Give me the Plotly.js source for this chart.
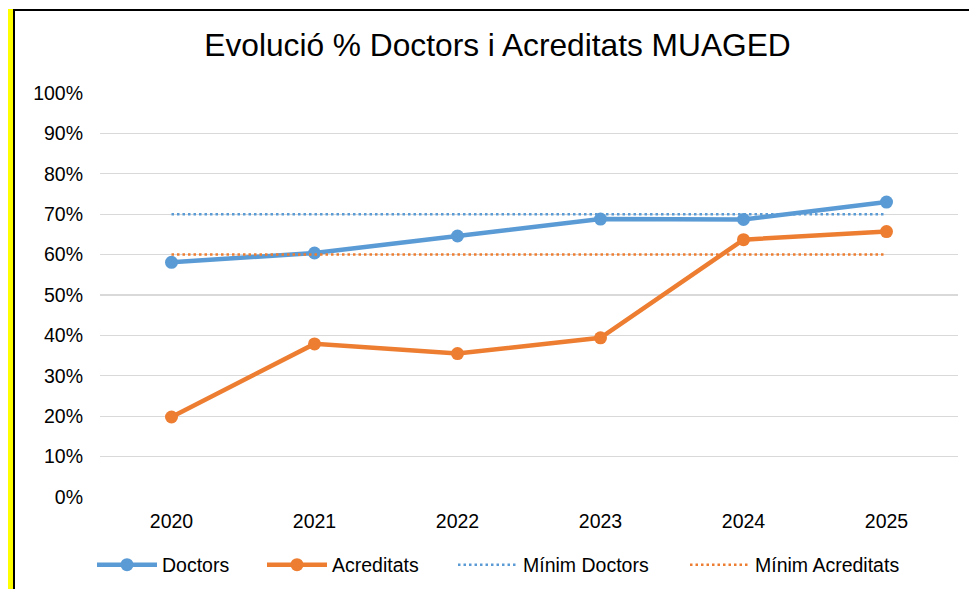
<!DOCTYPE html>
<html>
<head>
<meta charset="utf-8">
<script src="https://cdn.plot.ly/plotly-3.0.1.min.js"></script>
<style>
  html, body { margin: 0; padding: 0; background: #ffffff; width: 969px; height: 589px; overflow: hidden; }
  #strip { position: absolute; left: 8px; top: 9px; width: 5px; height: 580px; background: #FFFF00; }
  #chart { position: absolute; left: 13px; top: 9px; width: 954px; height: 578px;
           border-left: 2px solid #000; border-top: 2px solid #000; }
</style>
</head>
<body>
<div id="strip"></div>
<div id="chart"></div>
<script>
const years = ['2020', '2021', '2022', '2023', '2024', '2025'];
const doctors = [58.1, 60.4, 64.6, 68.8, 68.7, 73.0];
const acreditats = [19.8, 37.9, 35.5, 39.4, 63.7, 65.7];
const minimDoctors = [70, 70, 70, 70, 70, 70];
const minimAcreditats = [60, 60, 60, 60, 60, 60];
const yTickVals = [0, 10, 20, 30, 40, 50, 60, 70, 80, 90, 100];
const yTickText = ['0%', '10%', '20%', '30%', '40%', '50%', '60%', '70%', '80%', '90%', '100%'];

const BLUE = '#5B9BD5';
const ORANGE = '#ED7D31';
const FONT = 'Liberation Sans, Arial, sans-serif';

const traces = [
  { x: years, y: doctors, name: 'Doctors', type: 'scatter', mode: 'lines+markers', legend: 'legend',
    line: { color: BLUE, width: 4.5 }, marker: { color: BLUE, size: 13 } },
  { x: years, y: acreditats, name: 'Acreditats', type: 'scatter', mode: 'lines+markers', legend: 'legend2',
    line: { color: ORANGE, width: 4.5 }, marker: { color: ORANGE, size: 13 } },
  { x: years, y: minimDoctors, name: 'Mínim Doctors', type: 'scatter', mode: 'lines', legend: 'legend3',
    line: { color: BLUE, width: 2.5, dash: '2.5px,3px' } },
  { x: years, y: minimAcreditats, name: 'Mínim Acreditats', type: 'scatter', mode: 'lines', legend: 'legend4',
    line: { color: ORANGE, width: 2.5, dash: '2.5px,3px' } }
];

function leg(xpx) {
  return { orientation: 'h', xref: 'container', yref: 'container', itemwidth: 60,
           x: (xpx - 20) / 954, xanchor: 'left', y: 1 - 554 / 578, yanchor: 'middle',
           font: { family: FONT, size: 19.5, color: '#000' }, bgcolor: 'rgba(0,0,0,0)' };
}

const layout = {
  width: 954, height: 578,
  margin: { l: 85, r: 11, t: 82, b: 92 },
  paper_bgcolor: '#ffffff', plot_bgcolor: '#ffffff',
  font: { family: FONT, color: '#000000', size: 19.5 },
  title: { text: 'Evolució % Doctors i Acreditats MUAGED', font: { family: FONT, size: 31.7, color: '#000000' },
           x: (497.5 - 15) / 954, xanchor: 'center', y: 1 - 34 / 578, yanchor: 'middle', xref: 'container', yref: 'container' },
  xaxis: { type: 'category', range: [-0.5, 5.5], showgrid: false, zeroline: false, showline: false,
           ticks: '', ticklabelstandoff: 10, tickfont: { family: FONT, size: 19.5, color: '#000' }, fixedrange: true },
  yaxis: { range: [0, 100], tickvals: yTickVals, ticktext: yTickText, showgrid: true, gridcolor: '#D9D9D9', gridwidth: 1.3,
           zeroline: false, showline: false, ticks: '', ticklabelstandoff: 16,
           tickfont: { family: FONT, size: 19.5, color: '#000' }, fixedrange: true },
  showlegend: true,
  legend: leg(97),
  legend2: leg(267),
  legend3: leg(458),
  legend4: leg(690)
};

Plotly.newPlot('chart', traces, layout, { displayModeBar: false, staticPlot: true });
</script>
</body>
</html>
